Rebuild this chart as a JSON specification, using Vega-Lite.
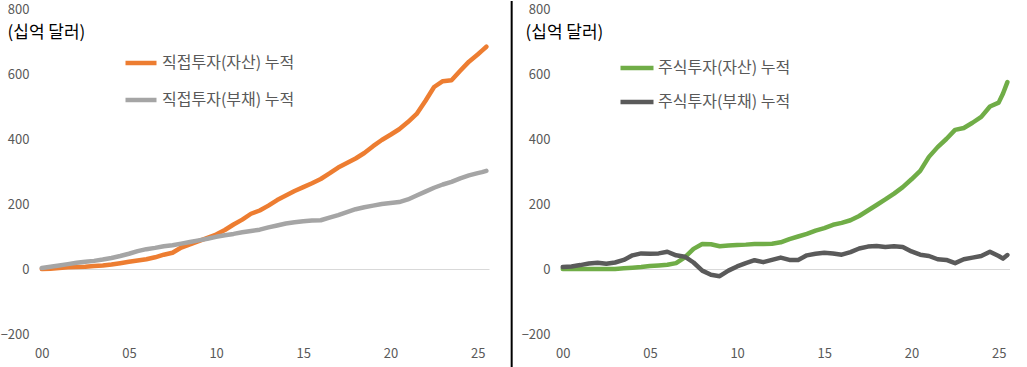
{
  "$schema": "https://vega.github.io/schema/vega-lite/v6.json",
  "padding": {"left": 0, "top": 0, "right": 0, "bottom": 0},
  "bounds": "flush",
  "spacing": 72,
  "config": {
    "view": {"stroke": null},
    "font": "Noto Sans CJK KR",
    "axis": {"labelFont": "Noto Sans CJK KR", "labelFontSize": 13, "labelColor": "#595959", "ticks": false, "domain": false},
    "legend": {"labelFont": "Noto Sans CJK KR"}
  },
  "data": {"values": [
    {"t": 0, "dia": 0, "dil": 3, "eqa": 0, "eql": 6},
    {"t": 0.5, "dia": 1, "dil": 7, "eqa": 0, "eql": 8},
    {"t": 1, "dia": 3, "dil": 11, "eqa": 0, "eql": 12},
    {"t": 1.5, "dia": 5, "dil": 15, "eqa": 0, "eql": 17},
    {"t": 2, "dia": 6, "dil": 19, "eqa": 0, "eql": 19},
    {"t": 2.5, "dia": 7, "dil": 22, "eqa": 0, "eql": 16},
    {"t": 3, "dia": 9, "dil": 25, "eqa": 0, "eql": 20},
    {"t": 3.5, "dia": 11, "dil": 29, "eqa": 2, "eql": 28},
    {"t": 4, "dia": 14, "dil": 34, "eqa": 4, "eql": 42},
    {"t": 4.5, "dia": 18, "dil": 40, "eqa": 6, "eql": 48},
    {"t": 5, "dia": 22, "dil": 47, "eqa": 9, "eql": 47},
    {"t": 5.5, "dia": 26, "dil": 55, "eqa": 11, "eql": 48},
    {"t": 6, "dia": 30, "dil": 61, "eqa": 13, "eql": 53},
    {"t": 6.5, "dia": 36, "dil": 65, "eqa": 18, "eql": 42},
    {"t": 7, "dia": 44, "dil": 70, "eqa": 36, "eql": 38},
    {"t": 7.5, "dia": 50, "dil": 73, "eqa": 62, "eql": 20},
    {"t": 8, "dia": 66, "dil": 78, "eqa": 77, "eql": -5},
    {"t": 8.5, "dia": 76, "dil": 83, "eqa": 76, "eql": -18},
    {"t": 9, "dia": 86, "dil": 88, "eqa": 70, "eql": -22},
    {"t": 9.5, "dia": 96, "dil": 93, "eqa": 72, "eql": -5},
    {"t": 10, "dia": 106, "dil": 99, "eqa": 74, "eql": 8},
    {"t": 10.5, "dia": 120, "dil": 104, "eqa": 75, "eql": 18},
    {"t": 11, "dia": 137, "dil": 108, "eqa": 77, "eql": 27},
    {"t": 11.5, "dia": 152, "dil": 113, "eqa": 77, "eql": 21},
    {"t": 12, "dia": 170, "dil": 117, "eqa": 78, "eql": 28},
    {"t": 12.5, "dia": 180, "dil": 121, "eqa": 82, "eql": 35},
    {"t": 13, "dia": 195, "dil": 128, "eqa": 92, "eql": 28},
    {"t": 13.5, "dia": 212, "dil": 134, "eqa": 100, "eql": 28},
    {"t": 14, "dia": 226, "dil": 140, "eqa": 108, "eql": 42},
    {"t": 14.5, "dia": 240, "dil": 144, "eqa": 118, "eql": 47},
    {"t": 15, "dia": 252, "dil": 147, "eqa": 126, "eql": 50},
    {"t": 15.5, "dia": 264, "dil": 149, "eqa": 136, "eql": 48},
    {"t": 16, "dia": 277, "dil": 150, "eqa": 142, "eql": 44},
    {"t": 16.5, "dia": 294, "dil": 158, "eqa": 150, "eql": 52},
    {"t": 17, "dia": 312, "dil": 166, "eqa": 163, "eql": 63},
    {"t": 17.5, "dia": 326, "dil": 175, "eqa": 180, "eql": 69},
    {"t": 18, "dia": 340, "dil": 184, "eqa": 197, "eql": 71},
    {"t": 18.5, "dia": 357, "dil": 190, "eqa": 214, "eql": 68},
    {"t": 19, "dia": 378, "dil": 195, "eqa": 232, "eql": 70},
    {"t": 19.5, "dia": 397, "dil": 200, "eqa": 252, "eql": 68},
    {"t": 20, "dia": 413, "dil": 203, "eqa": 276, "eql": 54},
    {"t": 20.5, "dia": 430, "dil": 206, "eqa": 302, "eql": 44},
    {"t": 21, "dia": 452, "dil": 214, "eqa": 345, "eql": 40},
    {"t": 21.5, "dia": 477, "dil": 226, "eqa": 375, "eql": 30},
    {"t": 22, "dia": 517, "dil": 238, "eqa": 400, "eql": 28},
    {"t": 22.5, "dia": 560, "dil": 250, "eqa": 428, "eql": 18},
    {"t": 23, "dia": 578, "dil": 260, "eqa": 434, "eql": 30},
    {"t": 23.5, "dia": 581, "dil": 268, "eqa": 450, "eql": 35},
    {"t": 24, "dia": 610, "dil": 279, "eqa": 468, "eql": 40},
    {"t": 24.5, "dia": 638, "dil": 288, "eqa": 500, "eql": 53},
    {"t": 25, "dia": 660, "dil": 295, "eqa": 512, "eql": 40},
    {"t": 25.25, "dia": 672, "dil": 298, "eqa": 540, "eql": 32},
    {"t": 25.5, "dia": 684, "dil": 302, "eqa": 575, "eql": 43}
  ]},
  "resolve": {"scale": {"color": "independent", "x": "independent", "y": "independent"}, "legend": {"color": "independent"}},
  "hconcat": [
    {
      "width": 449,
      "height": 325,
      "layer": [
        {
          "transform": [{"fold": ["dia", "dil"], "as": ["s", "v"]}],
          "mark": {"type": "line", "strokeWidth": 4.5, "strokeCap": "round", "strokeJoin": "round"},
          "encoding": {
            "x": {"field": "t", "type": "quantitative",
              "scale": {"domain": [-0.1, 25.65], "nice": false, "zero": false},
              "axis": {"title": null, "values": [0, 5, 10, 15, 20, 25], "grid": false, "labelPadding": 13,
                "labelExpr": "datum.value < 10 ? '0' + datum.value : '' + datum.value"}},
            "y": {"field": "v", "type": "quantitative",
              "scale": {"domain": [-200, 800], "nice": false, "zero": false},
              "axis": {"values": [-200, 0, 200, 400, 600, 800], "labelPadding": 11,
                "grid": true, "gridColor": "#D9D9D9", "gridWidth": 1,
                "gridOpacity": {"condition": {"test": "datum.value === 0", "value": 1}, "value": 0},
                "title": "(십억 달러)", "titleAngle": 0, "titleAlign": "left", "titleBaseline": "middle",
                "titleX": -33, "titleY": 23, "titleFontSize": 17, "titleFontWeight": "normal", "titleColor": "#000000"}},
            "color": {"field": "s", "type": "nominal",
              "scale": {"domain": ["dia", "dil"], "range": ["#ED7D31", "#A5A5A5"]},
              "legend": {"title": null, "orient": "none", "legendX": 83, "legendY": 36, "direction": "vertical",
                "symbolType": "stroke", "symbolSize": 961, "symbolStrokeWidth": 4.5,
                "labelFontSize": 16, "labelColor": "#595959", "labelOffset": 3, "rowPadding": 10,
                "labelExpr": "datum.label === 'dia' ? '직접투자(자산) 누적' : '직접투자(부채) 누적'"}}
          }
        },
        {
          "data": {"values": [{}]},
          "mark": {"type": "rule", "color": "#000000", "strokeWidth": 2},
          "encoding": {
            "x": {"datum": 26.95, "type": "quantitative"},
            "y": {"datum": 824.6, "type": "quantitative"},
            "y2": {"datum": -304.6}
          }
        }
      ]
    },
    {
      "width": 449,
      "height": 325,
      "transform": [{"fold": ["eqa", "eql"], "as": ["s", "v"]}],
      "mark": {"type": "line", "strokeWidth": 4.5, "strokeCap": "round", "strokeJoin": "round"},
      "encoding": {
        "x": {"field": "t", "type": "quantitative",
          "scale": {"domain": [-0.1, 25.65], "nice": false, "zero": false},
          "axis": {"title": null, "values": [0, 5, 10, 15, 20, 25], "grid": false, "labelPadding": 13,
            "labelExpr": "datum.value < 10 ? '0' + datum.value : '' + datum.value"}},
        "y": {"field": "v", "type": "quantitative",
          "scale": {"domain": [-200, 800], "nice": false, "zero": false},
          "axis": {"values": [-200, 0, 200, 400, 600, 800], "labelPadding": 11,
            "grid": true, "gridColor": "#D9D9D9", "gridWidth": 1,
            "gridOpacity": {"condition": {"test": "datum.value === 0", "value": 1}, "value": 0},
            "title": "(십억 달러)", "titleAngle": 0, "titleAlign": "left", "titleBaseline": "middle",
            "titleX": -36, "titleY": 23, "titleFontSize": 17, "titleFontWeight": "normal", "titleColor": "#000000"}},
        "color": {"field": "s", "type": "nominal",
          "scale": {"domain": ["eqa", "eql"], "range": ["#70AD47", "#5A5A5A"]},
          "legend": {"title": null, "orient": "none", "legendX": 57, "legendY": 40, "direction": "vertical",
            "symbolType": "stroke", "symbolSize": 1089, "symbolStrokeWidth": 4.5,
            "labelFontSize": 16, "labelColor": "#595959", "labelOffset": 2, "rowPadding": 6,
            "labelExpr": "datum.label === 'eqa' ? '주식투자(자산) 누적' : '주식투자(부채) 누적'"}}
      }
    }
  ]
}
